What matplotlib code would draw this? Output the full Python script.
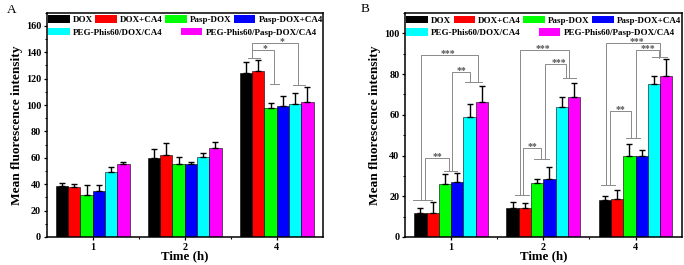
import numpy as np
import matplotlib
matplotlib.use("Agg")
import matplotlib.pyplot as plt
from matplotlib.patches import Patch
from matplotlib.ticker import MultipleLocator, FixedLocator

plt.rcParams["font.family"] = ["Liberation Serif", "DejaVu Serif"]
plt.rcParams["font.weight"] = "bold"

times = ["1", "2", "4"]
groups = ["DOX", "DOX+CA4", "Pasp-DOX", "Pasp-DOX+CA4",
          "PEG-Phis60/DOX/CA4", "PEG-Phis60/Pasp-DOX/CA4"]
colors = ["#000000", "#FF0000", "#00FF00", "#0000FF", "#00FFFF", "#FF00FF"]

# panel A: mean values and upper error, one list per group (times 1, 2, 4 h)
a_mean = [[39, 60, 124.5], [38, 62, 125.5], [31.5, 55, 98], [35, 55, 99.5],
          [49.5, 61, 100.5], [55, 67.5, 102.5]]
a_err = [[2.2, 6.5, 8.3], [2, 9, 8.8], [8, 6, 3.6], [4.2, 2.2, 7.5],
         [3.4, 3, 9], [2.2, 4.6, 11]]

# panel B
b_mean = [[11.8, 14.3, 18], [12, 14.4, 18.8], [25.8, 26.5, 39.6], [27.1, 28.3, 39.6],
          [59, 64, 75], [66.4, 68.9, 78.9]]
b_err = [[2.2, 2.8, 2.3], [5, 2.2, 4.4], [5, 2.1, 6.1], [4.2, 6.2, 3.1],
         [6.1, 4.7, 4.1], [7.8, 6.5, 8.3]]

# significance brackets: (group, x_left, y_left, x_right, y_right, top, label, label_x)
a_brackets = [(2, -0.266, 135.8, -0.026, 115.9, 142.1, "*", -0.128),
              (2, -0.266, 135.8, 0.236, 115.1, 147.4, "*", 0.055)]
a_caps = [(2, -0.245, 135.8, 0.065), (2, -0.02, 115.9, 0.05), (2, 0.245, 115.1, 0.065)]

b_brackets = [(0, -0.28, 18.4, -0.024, 32.6, 38.7, "**", -0.15),
              (0, 0.01, 32.6, 0.21, 76.2, 81.2, "**", 0.11),
              (0, -0.327, 18.4, 0.287, 76.2, 89.4, "***", -0.035),
              (1, -0.22, 20.4, -0.03, 38.3, 43.6, "**", -0.12),
              (1, -0.25, 20.4, 0.28, 78, 91.7, "***", -0.01),
              (1, 0.014, 38.3, 0.245, 78, 84.8, "***", 0.17),
              (2, -0.28, 25.6, -0.05, 48.6, 62, "**", -0.16),
              (2, -0.325, 25.6, 0.27, 88.9, 95.1, "***", 0.01),
              (2, 0.0, 48.6, 0.25, 88.0, 91.7, "***", 0.13)]
b_caps = [(0, -0.31, 18.4, 0.105), (0, -0.01, 32.6, 0.07), (0, 0.24, 76.2, 0.09),
          (1, -0.23, 20.4, 0.075), (1, -0.02, 38.3, 0.08), (1, 0.28, 78, 0.07),
          (2, -0.30, 25.6, 0.075), (2, -0.025, 48.6, 0.075), (2, 0.26, 88.5, 0.08)]

TICK_FS = 7.3
LEG_FS = 6.5
BR_COL = "#8a8a8a"


def draw_panel(ax, means, errs, brackets, caps, ylim, ymaj, ymin):
    x = np.arange(len(times))
    w = 0.8 / len(groups)
    for i, (m, e, c) in enumerate(zip(means, errs, colors)):
        pos = x + (i - 2.5) * w
        ax.bar(pos, m, w, color=c, edgecolor="black", linewidth=0.4, zorder=2)
        ax.errorbar(pos, m, yerr=[np.zeros(len(e)), e], fmt="none", ecolor="black",
                    elinewidth=1.0, capsize=2.0, capthick=1.0, zorder=3)
    for g, xl, yl, xr, yr, top, lab, lx in brackets:
        ax.plot([g + xl, g + xl, g + xr, g + xr], [yl, top, top, yr],
                color=BR_COL, lw=0.7, zorder=4)
        ax.text(g + lx, top + ylim * 0.006, lab, ha="center", va="center",
                fontsize=7, color="#555555", zorder=5)
    for g, xc, y, hw in caps:
        ax.plot([g + xc - hw, g + xc + hw], [y, y], color=BR_COL, lw=0.7, zorder=4)

    ax.set_xlim(-0.5, 2.5)
    ax.set_ylim(0, ylim)
    ax.set_xticks(x)
    ax.set_xticklabels(times)
    ax.xaxis.set_minor_locator(FixedLocator([0.5, 1.5]))
    ax.yaxis.set_major_locator(MultipleLocator(ymaj))
    ax.yaxis.set_minor_locator(MultipleLocator(ymin))
    ax.tick_params(which="major", direction="out", length=2.5, width=0.9,
                   labelsize=TICK_FS, pad=1.5)
    ax.tick_params(which="minor", direction="out", length=1.4, width=0.8)
    ax.tick_params(top=False, right=False)
    for s in ax.spines.values():
        s.set_linewidth(1.1)
    ax.set_xlabel("Time (h)", fontsize=9.3, fontweight="bold", labelpad=-1)
    ax.set_ylabel("Mean fluorescence intensity", fontsize=9.6, fontweight="bold", labelpad=2)

    handles = [Patch(facecolor=c, edgecolor="none") for c in colors]
    leg1 = ax.legend(handles[:4], groups[:4], ncol=4, loc="upper left",
                     bbox_to_anchor=(-0.005, 1.0), frameon=False, fontsize=LEG_FS,
                     handlelength=2.4, handleheight=0.9, handletextpad=0.35,
                     columnspacing=0.25, borderaxespad=0.2, borderpad=0.1)
    ax.add_artist(leg1)
    ax.legend(handles[4:], groups[4:], ncol=2, loc="upper left",
              bbox_to_anchor=(-0.005, 0.945), frameon=False, fontsize=LEG_FS,
              handlelength=2.4, handleheight=0.9, handletextpad=0.35,
              columnspacing=2.0, borderaxespad=0.2, borderpad=0.1)


fig = plt.figure(figsize=(6.84, 2.65), dpi=100)
ax_a = fig.add_axes([0.0683, 0.1057, 0.4035, 0.8463])
ax_b = fig.add_axes([0.5921, 0.1057, 0.4045, 0.8453])

draw_panel(ax_a, a_mean, a_err, a_brackets, a_caps, 170, 20, 10)
draw_panel(ax_b, b_mean, b_err, b_brackets, b_caps, 110, 20, 10)

fig.text(0.010, 0.962, "A", fontsize=9.5, fontweight="normal", va="center")
fig.text(0.527, 0.965, "B", fontsize=9.5, fontweight="normal", va="center")

fig.savefig("out.png", dpi=100)
